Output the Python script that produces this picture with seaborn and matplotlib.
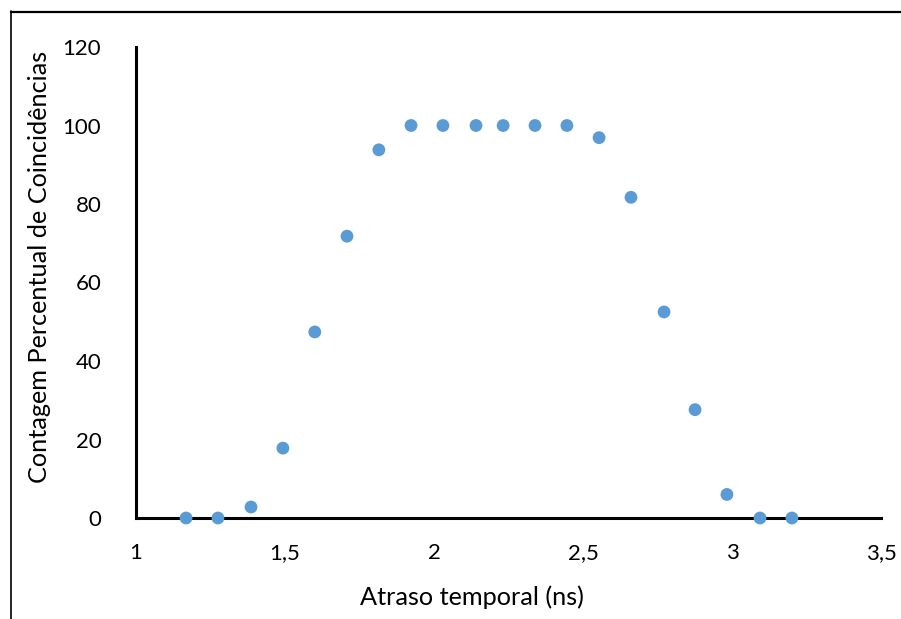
import matplotlib
matplotlib.use("Agg")
import matplotlib.pyplot as plt
from matplotlib.lines import Line2D
import seaborn as sns
import pandas as pd

# Delay (ns) and percentage of coincidence counts
atraso_ns = [1.168, 1.275, 1.386, 1.493, 1.600, 1.708, 1.815, 1.923, 2.030, 2.141,
             2.232, 2.339, 2.446, 2.554, 2.661, 2.772, 2.876, 2.983, 3.094, 3.201]
contagem_pct = [0, 0, 2.8, 17.8, 47.4, 71.8, 93.8, 100, 100, 100,
                100, 100, 100, 96.9, 81.7, 52.5, 27.6, 6.0, 0, 0]

x_ticks = [1, 1.5, 2, 2.5, 3, 3.5]
x_tick_labels = ["1", "1,5", "2", "2,5", "3", "3,5"]
y_ticks = [0, 20, 40, 60, 80, 100, 120]

df = pd.DataFrame({"atraso": atraso_ns, "contagem": contagem_pct})

sns.set_theme(style="white")
plt.rcParams["font.family"] = ["Lato", "DejaVu Sans"]

fig = plt.figure(figsize=(9.01, 6.19), dpi=100)
ax = fig.add_axes([136 / 901, 1 - 518 / 619, (881 - 136) / 901, (518 - 47) / 619])

sns.scatterplot(data=df, x="atraso", y="contagem", ax=ax, color="#5B9BD5",
                s=85, edgecolor="none", zorder=3, clip_on=False)

ax.set_xlim(1, 3.5)
ax.set_ylim(0, 120)
ax.set_xticks(x_ticks)
ax.set_xticklabels(x_tick_labels)
ax.set_yticks(y_ticks)

for side in ["top", "right"]:
    ax.spines[side].set_visible(False)
for side in ["left", "bottom"]:
    ax.spines[side].set_color("black")
    ax.spines[side].set_linewidth(2.2)

ax.tick_params(axis="both", length=0, labelsize=16, colors="black")
ax.tick_params(axis="y", pad=25)
ax.tick_params(axis="x", pad=18)

ax.set_xlabel("Atraso temporal (ns)", fontsize=18.2, color="black", va="center")
ax.set_ylabel("Contagem Percentual de Coincidências", fontsize=18.2, color="black",
              va="center")
ax.xaxis.set_label_coords(0.4503, -0.168)
ax.yaxis.set_label_coords(-0.1302, 0.532)

# Outer chart frame (left and top edges)
fig.add_artist(Line2D([11 / 901, 11 / 901], [0, 1 - 11 / 619], color="black",
                      lw=1.2, transform=fig.transFigure))
fig.add_artist(Line2D([11 / 901, 1], [1 - 12 / 619, 1 - 12 / 619], color="black",
                      lw=1.6, transform=fig.transFigure))

fig.savefig("out.png", dpi=100, facecolor="white")
